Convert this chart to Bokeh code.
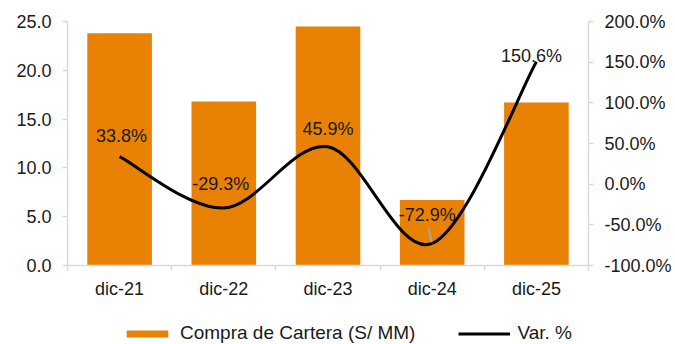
from bokeh.plotting import figure
from bokeh.layouts import column
from bokeh.models import (Range1d, LinearAxis, FixedTicker, PrintfTickFormatter,
                          ColumnDataSource, Legend, LegendItem)
from bokeh.embed import file_html
from bokeh.resources import INLINE
from bokeh.core.properties import value

# ---- data ----
categories = ["dic-21", "dic-22", "dic-23", "dic-24", "dic-25"]
compra = [23.8, 16.8, 24.5, 6.7, 16.7]          # S/ MM (left axis)
var_pct = [33.8, -29.3, 45.9, -72.9, 150.6]     # % (right axis)
left_ticks = [0, 5, 10, 15, 20, 25]
right_ticks = [-100, -50, 0, 50, 100, 150, 200]
series_names = ["Compra de Cartera (S/ MM)", "Var. %"]

# ---- style ----
FONT = "Liberation Sans"
FS = "18px"
TXT = "#1A1A1A"
AXC = "#D9D9D9"
ORANGE = "#E88104"
label_dx = [2, -3, 0, -5, -5]        # px offsets of data labels
label_dy = [-21, -24, -18, -28, -6]
BL, BR = 67, 87

n = len(categories)
xs = [i + 0.5 for i in range(n)]

p = figure(width=675, height=310, output_backend="svg", toolbar_location=None,
           x_range=Range1d(0, n), y_range=Range1d(left_ticks[0], left_ticks[-1]),
           min_border_left=BL, min_border_right=BR, min_border_top=21, min_border_bottom=45,
           x_axis_type=None, y_axis_type=None)
p.outline_line_color = None
p.background_fill_color = "white"
p.border_fill_color = "white"
p.extra_y_ranges = {"right": Range1d(right_ticks[0], right_ticks[-1])}

def style_axis(ax):
    ax.axis_line_color = AXC
    ax.axis_line_width = 1.5
    ax.major_tick_line_color = AXC
    ax.major_tick_line_width = 1.5
    ax.major_tick_in = 0
    ax.major_tick_out = 5
    ax.minor_tick_line_color = None
    ax.major_label_text_font = FONT
    ax.major_label_text_font_size = FS
    ax.major_label_text_color = TXT
    ax.major_label_standoff = 11

yl = LinearAxis(ticker=FixedTicker(ticks=left_ticks), formatter=PrintfTickFormatter(format="%.1f"))
style_axis(yl)
p.add_layout(yl, "left")

yr = LinearAxis(y_range_name="right", ticker=FixedTicker(ticks=right_ticks),
                formatter=PrintfTickFormatter(format="%.1f%%"))
style_axis(yr)
p.add_layout(yr, "right")

xa = LinearAxis(ticker=FixedTicker(ticks=xs, minor_ticks=list(range(n + 1))))
style_axis(xa)
xa.major_tick_out = 0
xa.minor_tick_line_color = AXC
xa.minor_tick_line_width = 1.5
xa.minor_tick_in = 0
xa.minor_tick_out = 5
xa.major_label_standoff = 8
xa.major_label_overrides = {x: c for x, c in zip(xs, categories)}
p.add_layout(xa, "below")

src = ColumnDataSource(dict(x=xs, compra=compra, var=var_pct,
                            lab=[f"{v:.1f}%" for v in var_pct], dx=label_dx, dy=label_dy))

p.vbar(x="x", top="compra", width=0.62, source=src, fill_color=ORANGE, line_color=None)

# smoothed line (Excel-style Catmull-Rom bezier through the data points)
x0, y0, x1, y1, cx0, cy0, cx1, cy1 = ([] for _ in range(8))
for i in range(n - 1):
    pm = i - 1 if i > 0 else i
    pp = i + 2 if i + 2 < n else i + 1
    x0.append(xs[i]); y0.append(var_pct[i])
    x1.append(xs[i + 1]); y1.append(var_pct[i + 1])
    cx0.append(xs[i] + (xs[i + 1] - xs[pm]) / 6)
    cy0.append(var_pct[i] + (var_pct[i + 1] - var_pct[pm]) / 6)
    cx1.append(xs[i + 1] - (xs[pp] - xs[i]) / 6)
    cy1.append(var_pct[i + 1] - (var_pct[pp] - var_pct[i]) / 6)
p.bezier(x0=x0, y0=y0, x1=x1, y1=y1, cx0=cx0, cy0=cy0, cx1=cx1, cy1=cy1,
         line_color="black", line_width=3, y_range_name="right")

# leader line for the moved -72.9% label
k = 3
p.segment(x0=[xs[k] - 0.037], y0=[var_pct[k] + 18.5], x1=[xs[k] - 0.005], y1=[var_pct[k] + 1.5],
          line_color="#A6A6A6", line_width=2, y_range_name="right")

p.text(x="x", y="var", text="lab", source=src, x_offset="dx", y_offset="dy",
       text_align="center", text_baseline="middle", text_font=value(FONT),
       text_font_size=FS, text_color=TXT, y_range_name="right")

# ---- legend strip (proxy glyphs lie outside the strip's visible range) ----
lg = figure(width=675, height=34, output_backend="svg", toolbar_location=None,
            x_range=Range1d(0, 1), y_range=Range1d(0, 1),
            min_border_left=BL, min_border_right=BR, min_border_top=0, min_border_bottom=0,
            x_axis_type=None, y_axis_type=None)
lg.outline_line_color = None
lg.grid.visible = False
bar_proxy = lg.vbar(x=[-10], top=[-10], width=0.5, fill_color=ORANGE, line_color=None)
line_proxy = lg.line(x=[-10, -9], y=[-10, -10], line_color="black", line_width=3)
legend = Legend(items=[LegendItem(label=series_names[0], renderers=[bar_proxy]),
                       LegendItem(label=series_names[1], renderers=[line_proxy])],
                location=(121 - BL, 0), orientation="horizontal",
                glyph_width=52, glyph_height=9, label_standoff=7, spacing=43,
                padding=0, margin=0, background_fill_alpha=0, border_line_color=None,
                label_text_font=FONT, label_text_font_size="19px", label_text_color=TXT)
lg.add_layout(legend, "center")

layout = column(p, lg, spacing=0)
open("out.html", "w").write(file_html(layout, INLINE))
